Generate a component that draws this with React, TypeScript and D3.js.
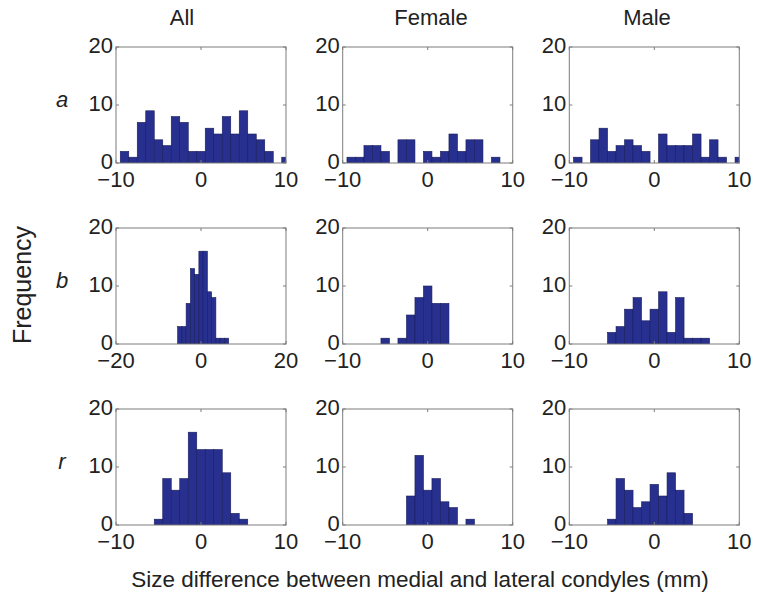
import React from "react";
import * as d3 from "d3";

// ---- data (bin width 1, counts per bin; first bin centre given) ----
const columnTitles = ["All", "Female", "Male"];
const rowLabels = ["a", "b", "r"];

const aAllStart = -9;
const aAllCounts = [2, 1, 7, 9, 4, 3, 8, 7, 2, 2, 6, 5, 8, 5, 9, 5, 4, 2, 0, 1];
const aFemaleStart = -9;
const aFemaleCounts = [1, 1, 3, 3, 2, 0, 4, 4, 0, 2, 1, 2, 5, 2, 4, 4, 0, 1];
const aMaleStart = -9;
const aMaleCounts = [1, 0, 4, 6, 2, 3, 4, 3, 2, 0, 5, 3, 3, 3, 5, 1, 4, 1, 0, 1];

const bAllStart = -5;
const bAllCounts = [3, 3, 7, 13, 12, 16, 16, 9, 8, 1, 1, 1];
const bFemaleStart = -5;
const bFemaleCounts = [1, 0, 1, 5, 8, 10, 7, 7];
const bMaleStart = -5;
const bMaleCounts = [2, 3, 6, 8, 4, 6, 9, 2, 8, 1, 1, 1];

const rAllStart = -5;
const rAllCounts = [1, 8, 6, 8, 16, 13, 13, 13, 9, 2, 1];
const rFemaleStart = -2;
const rFemaleCounts = [5, 12, 6, 8, 4, 3, 0, 1];
const rMaleStart = -5;
const rMaleCounts = [1, 8, 6, 3, 4, 7, 5, 9, 6, 2];

const xTicks10 = [-10, 0, 10];
const xTicks20 = [-20, 0, 20];
const yTicks = [0, 10, 20];

const panels = [
  [
    { start: aAllStart, counts: aAllCounts, ticks: xTicks10 },
    { start: aFemaleStart, counts: aFemaleCounts, ticks: xTicks10 },
    { start: aMaleStart, counts: aMaleCounts, ticks: xTicks10 },
  ],
  [
    { start: bAllStart, counts: bAllCounts, ticks: xTicks20 },
    { start: bFemaleStart, counts: bFemaleCounts, ticks: xTicks10 },
    { start: bMaleStart, counts: bMaleCounts, ticks: xTicks10 },
  ],
  [
    { start: rAllStart, counts: rAllCounts, ticks: xTicks10 },
    { start: rFemaleStart, counts: rFemaleCounts, ticks: xTicks10 },
    { start: rMaleStart, counts: rMaleCounts, ticks: xTicks10 },
  ],
];

// ---- layout ----
const W = 762;
const H = 601;
const panelLefts = [116, 342.7, 569.3];
const panelTops = [47, 228, 409];
const PW = 170;
const PH = 116;
const titleX = [182, 431, 647];
const FONT = "'Liberation Sans', Arial, Helvetica, sans-serif";
const BAR_FILL = "#28308f";
const BAR_EDGE = "#161b5a";
const AXIS = "#7d7d7d";
const TXT = "#222";
const TICK_FS = 22;

const fmt = (v: number) => (v < 0 ? "\u2212" + Math.abs(v) : String(v));

function Panel({ r, c }: { r: number; c: number }) {
  const p = panels[r][c];
  const x0 = panelLefts[c];
  const y0 = panelTops[r];
  const dom = d3.extent(p.ticks) as [number, number];
  const x = d3.scaleLinear().domain(dom).range([x0, x0 + PW]);
  const y = d3.scaleLinear().domain([0, 20]).range([y0 + PH, y0]);
  const bins = p.counts.map((n, i) => ({ c: p.start + i, n }));
  const clipId = `clip-${r}-${c}`;
  const tl = 3;
  return (
    <g>
      <defs>
        <clipPath id={clipId}>
          <rect x={x0} y={y0} width={PW} height={PH} />
        </clipPath>
      </defs>
      <g clipPath={`url(#${clipId})`}>
        {bins
          .filter((b) => b.n > 0)
          .map((b, i) => (
            <rect
              key={i}
              x={x(b.c - 0.5)}
              y={y(b.n)}
              width={x(b.c + 0.5) - x(b.c - 0.5)}
              height={y(0) - y(b.n)}
              fill={BAR_FILL}
              stroke={BAR_EDGE}
              strokeWidth={0.6}
            />
          ))}
      </g>
      <rect x={x0} y={y0} width={PW} height={PH} fill="none" stroke={AXIS} strokeWidth={1} />
      {p.ticks.map((t) => (
        <g key={"xt" + t}>
          <line x1={x(t)} x2={x(t)} y1={y0 + PH} y2={y0 + PH - tl} stroke={AXIS} />
          <line x1={x(t)} x2={x(t)} y1={y0} y2={y0 + tl} stroke={AXIS} />
          <text
            x={x(t)}
            y={y0 + PH + 24}
            textAnchor="middle"
            fontSize={TICK_FS}
            fontFamily={FONT}
            fill={TXT}
          >
            {fmt(t)}
          </text>
        </g>
      ))}
      {yTicks.map((t) => (
        <g key={"yt" + t}>
          <line x1={x0} x2={x0 + tl} y1={y(t)} y2={y(t)} stroke={AXIS} />
          <line x1={x0 + PW} x2={x0 + PW - tl} y1={y(t)} y2={y(t)} stroke={AXIS} />
          <text
            x={x0 - 3}
            y={y(t) + 6}
            textAnchor="end"
            fontSize={TICK_FS}
            fontFamily={FONT}
            fill={TXT}
          >
            {fmt(t)}
          </text>
        </g>
      ))}
    </g>
  );
}

export default function App() {
  return (
    <svg
      width={W}
      height={H}
      viewBox={`0 0 ${W} ${H}`}
      style={{ position: "absolute", left: 0, top: 0, background: "#fff" }}
    >
      <rect x={0} y={0} width={W} height={H} fill="#fff" />
      {columnTitles.map((t, c) => (
        <text key={t} x={titleX[c]} y={25} textAnchor="middle" fontSize={22} fontFamily={FONT} fill={TXT}>
          {t}
        </text>
      ))}
      {rowLabels.map((t, r) => (
        <text
          key={t}
          x={62}
          y={panelTops[r] + 60}
          textAnchor="middle"
          fontSize={22}
          fontStyle="italic"
          fontFamily={FONT}
          fill={TXT}
        >
          {t}
        </text>
      ))}
      <text
        transform="translate(31,285) rotate(-90)"
        textAnchor="middle"
        fontSize={25}
        fontFamily={FONT}
        fill={TXT}
      >
        Frequency
      </text>
      <text x={420} y={587} textAnchor="middle" fontSize={22.5} fontFamily={FONT} fill={TXT}>
        Size difference between medial and lateral condyles (mm)
      </text>
      {panels.map((row, r) => row.map((_, c) => <Panel key={`${r}-${c}`} r={r} c={c} />))}
    </svg>
  );
}
